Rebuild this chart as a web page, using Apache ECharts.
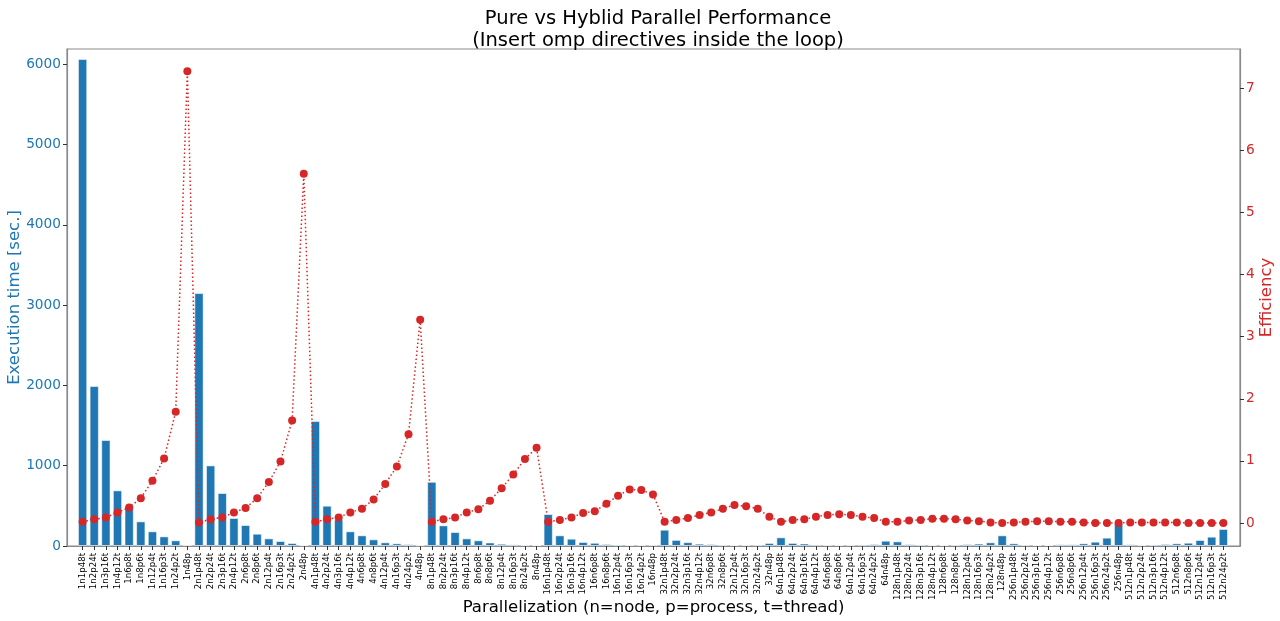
<!DOCTYPE html>
<html>
<head>
<meta charset="utf-8">
<title>Pure vs Hyblid Parallel Performance</title>
<script src="https://cdn.jsdelivr.net/npm/echarts@6/dist/echarts.min.js"></script>
<style>
  html, body { margin: 0; padding: 0; background: #ffffff; }
  #chart { width: 1280px; height: 621px; }
</style>
</head>
<body>
<div id="chart"></div>
<script>
// Run configurations: nodes (n), MPI processes per node (p), OpenMP threads (t)
const categories = [
  '1n1p48t','1n2p24t','1n3p16t','1n4p12t','1n6p8t','1n8p6t','1n12p4t','1n16p3t','1n24p2t','1n48p',
  '2n1p48t','2n2p24t','2n3p16t','2n4p12t','2n6p8t','2n8p6t','2n12p4t','2n16p3t','2n24p2t','2n48p',
  '4n1p48t','4n2p24t','4n3p16t','4n4p12t','4n6p8t','4n8p6t','4n12p4t','4n16p3t','4n24p2t','4n48p',
  '8n1p48t','8n2p24t','8n3p16t','8n4p12t','8n6p8t','8n8p6t','8n12p4t','8n16p3t','8n24p2t','8n48p',
  '16n1p48t','16n2p24t','16n3p16t','16n4p12t','16n6p8t','16n8p6t','16n12p4t','16n16p3t','16n24p2t','16n48p',
  '32n1p48t','32n2p24t','32n3p16t','32n4p12t','32n6p8t','32n8p6t','32n12p4t','32n16p3t','32n24p2t','32n48p',
  '64n1p48t','64n2p24t','64n3p16t','64n4p12t','64n6p8t','64n8p6t','64n12p4t','64n16p3t','64n24p2t','64n48p',
  '128n1p48t','128n2p24t','128n3p16t','128n4p12t','128n6p8t','128n8p6t','128n12p4t','128n16p3t','128n24p2t','128n48p',
  '256n1p48t','256n2p24t','256n3p16t','256n4p12t','256n6p8t','256n8p6t','256n12p4t','256n16p3t','256n24p2t','256n48p',
  '512n1p48t','512n2p24t','512n3p16t','512n4p12t','512n6p8t','512n8p6t','512n12p4t','512n16p3t','512n24p2t'
];

// Wall-clock execution time [sec.]
const execTime = [
  6065, 1992, 1320, 693, 498, 307, 183, 120, 71, 17,
  3150, 1004, 660, 349, 261, 153, 95, 62, 37, 11,
  1556, 502, 332, 183, 133, 83, 46, 33, 22, 9.5,
  800, 257, 174, 95, 71, 44, 28, 20, 15, 13,
  398, 133, 91, 50, 40, 25, 17.6, 14.3, 14.6, 16.8,
  203, 76, 48, 29, 23, 17, 13.4, 14.4, 17, 38,
  108, 38, 31, 19, 15, 13.8, 15, 19, 24, 66,
  58, 22, 18, 13.5, 13, 16, 23, 30, 46, 133,
  33, 17, 12, 13, 21, 21, 33, 54, 104, 282,
  21, 14, 19, 25, 33, 41, 75, 116, 212
];

// Parallel efficiency
const efficiency = [
  0.02, 0.06, 0.09, 0.17, 0.25, 0.40, 0.68, 1.04, 1.79, 7.27,
  0.01, 0.06, 0.09, 0.17, 0.24, 0.40, 0.66, 0.99, 1.65, 5.62,
  0.02, 0.06, 0.09, 0.17, 0.23, 0.38, 0.63, 0.91, 1.43, 3.27,
  0.02, 0.06, 0.09, 0.17, 0.22, 0.36, 0.56, 0.78, 1.03, 1.21,
  0.02, 0.05, 0.09, 0.16, 0.19, 0.31, 0.44, 0.54, 0.53, 0.46,
  0.02, 0.05, 0.08, 0.13, 0.17, 0.23, 0.29, 0.27, 0.23, 0.10,
  0.02, 0.05, 0.06, 0.10, 0.13, 0.14, 0.13, 0.10, 0.08, 0.02,
  0.02, 0.04, 0.05, 0.07, 0.07, 0.06, 0.04, 0.03, 0.01, 0.00,
  0.01, 0.02, 0.03, 0.03, 0.02, 0.02, 0.01, 0.00, 0.00, 0.00,
  0.01, 0.01, 0.01, 0.01, 0.01, 0.00, 0.00, 0.00, 0.00
];

const timeTicks = [0, 1000, 2000, 3000, 4000, 5000, 6000];
const effTicks = [0, 1, 2, 3, 4, 5, 6, 7];

const BLUE = '#1f77b4';
const ORANGE = '#ff7f0e';
const RED = '#d62728';
const FONT = 'DejaVu Sans';

// The fastest configuration of every node count is drawn in orange
const nodeOf = name => name.split('n')[0];
const bestByNode = {};
categories.forEach((c, i) => {
  const k = nodeOf(c);
  if (!(k in bestByNode) || execTime[i] < execTime[bestByNode[k]]) bestByNode[k] = i;
});
const isBest = i => bestByNode[nodeOf(categories[i])] === i;

const indices = categories.map((_, i) => i);
const barData = execTime.map((v, i) => ({
  value: [i, v],
  itemStyle: { color: isBest(i) ? ORANGE : BLUE }
}));
const lineData = efficiency.map((v, i) => [i, v]);

const chart = echarts.init(document.getElementById('chart'), null, { renderer: 'canvas' });
chart.setOption({
  backgroundColor: '#ffffff',
  animation: false,
  textStyle: { fontFamily: FONT },
  title: {
    text: 'Pure vs Hyblid Parallel Performance\n(Insert omp directives inside the loop)',
    left: 653, top: 3, textAlign: 'center',
    textStyle: { fontFamily: FONT, fontSize: 19.5, fontWeight: 'normal', color: '#000', lineHeight: 22 }
  },
  grid: {
    left: 67, right: 40, top: 49, bottom: 75,
    containLabel: false, outerBoundsMode: 'none',
    show: true, borderColor: '#8a8a8a', borderWidth: 1.2, backgroundColor: 'transparent'
  },
  xAxis: {
    type: 'value',
    min: -1.34, max: 99.43,
    name: 'Parallelization (n=node, p=process, t=thread)',
    nameLocation: 'middle', nameGap: 53, nameMoveOverlap: false,
    nameTextStyle: { fontFamily: FONT, fontSize: 16.5, color: '#000' },
    splitLine: { show: false },
    axisLine: { show: true, onZero: false, lineStyle: { color: '#8a8a8a', width: 1.2 } },
    axisTick: { show: true, length: 4, customValues: indices, lineStyle: { color: '#333' } },
    axisLabel: {
      customValues: indices, rotate: 90, margin: 7, hideOverlap: false,
      fontFamily: FONT, fontSize: 8.6, color: '#000',
      formatter: v => categories[Math.round(v)] || ''
    }
  },
  yAxis: [
    {
      type: 'value', min: 0, max: 6190, position: 'left',
      name: 'Execution time [sec.]', nameLocation: 'middle', nameGap: 44, nameRotate: 90,
      nameMoveOverlap: false,
      nameTextStyle: { fontFamily: FONT, fontSize: 16.5, color: BLUE },
      splitLine: { show: false },
      axisLine: { show: true, onZero: false, lineStyle: { color: '#8a8a8a', width: 1.2 } },
      axisTick: { show: true, length: 4, customValues: timeTicks, lineStyle: { color: '#333' } },
      axisLabel: {
        customValues: timeTicks, fontFamily: FONT, fontSize: 13.7, color: BLUE, margin: 6,
        formatter: v => String(v)
      }
    },
    {
      type: 'value', min: -0.37, max: 7.63, position: 'right',
      name: 'Efficiency', nameLocation: 'middle', nameGap: 18, nameRotate: 90,
      nameMoveOverlap: false,
      nameTextStyle: { fontFamily: FONT, fontSize: 16.5, color: RED },
      splitLine: { show: false },
      axisLine: { show: true, onZero: false, lineStyle: { color: '#8a8a8a', width: 1.2 } },
      axisTick: { show: true, length: 4, customValues: effTicks, lineStyle: { color: '#333' } },
      axisLabel: {
        customValues: effTicks, fontFamily: FONT, fontSize: 13.7, color: RED, margin: 6,
        formatter: v => String(v)
      }
    }
  ],
  series: [
    {
      name: 'Execution time',
      type: 'bar',
      yAxisIndex: 0,
      barWidth: 9.3,
      data: barData,
      itemStyle: { borderColor: 'rgba(255,255,255,0.55)', borderWidth: 1 },
      z: 2
    },
    {
      name: 'Efficiency',
      type: 'line',
      yAxisIndex: 1,
      data: lineData,
      symbol: 'circle',
      symbolSize: 8,
      itemStyle: { color: RED },
      lineStyle: { color: RED, width: 1.5, type: [1.5, 2.5] },
      z: 3
    }
  ]
});
</script>
</body>
</html>
